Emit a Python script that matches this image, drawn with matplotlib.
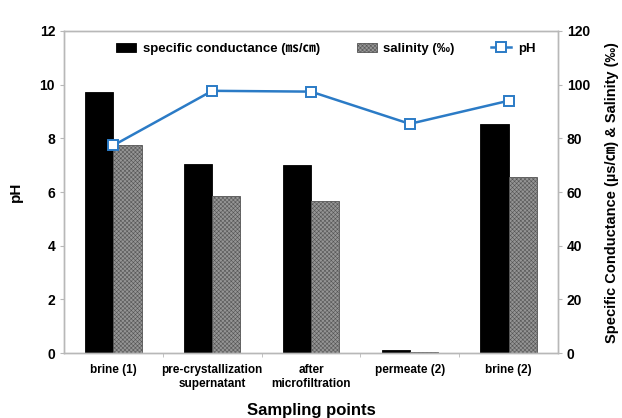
import matplotlib
matplotlib.use("Agg")
import matplotlib.pyplot as plt
import numpy as np

plt.rcParams['font.family'] = ['Liberation Sans', 'Noto Sans CJK KR', 'DejaVu Sans']
plt.rcParams['font.weight'] = 'bold'
plt.rcParams['hatch.linewidth'] = 0.4
plt.rcParams['hatch.color'] = '#6a6a6a'

categories = ['brine (1)', 'pre-crystallization\nsupernatant', 'after\nmicrofiltration',
              'permeate (2)', 'brine (2)']
conductance = [97.1, 70.3, 70.1, 1.3, 85.5]
salinity = [77.6, 58.4, 56.8, 0.6, 65.6]
ph = [7.74, 9.77, 9.74, 8.54, 9.40]

spine_col = '#b8b8b8'

fig = plt.figure(figsize=(6.22, 4.18), dpi=100)
ax = fig.add_axes([0.103, 0.155, 0.794, 0.771])
ax2 = ax.twinx()

x = np.arange(len(categories))
w = 0.285

# bars live on the right-hand axis (0-120)
b1 = ax2.bar(x - w / 2, conductance, width=w, color='black', edgecolor='black',
             linewidth=0.6, label='specific conductance (㎳/㎝)', zorder=2)
b2 = ax2.bar(x + w / 2, salinity, width=w, color='#959595', edgecolor='#555555',
             linewidth=0.6, hatch='xxxxxxxx', label='salinity (‰)', zorder=2)

# pH line on the left axis, drawn above the bars
ax.set_zorder(ax2.get_zorder() + 1)
ax.patch.set_visible(False)
ln, = ax.plot(x, ph, color='#2b7bc6', linewidth=1.8, marker='s', markersize=6.5,
              markerfacecolor='white', markeredgecolor='#2b7bc6', markeredgewidth=1.4,
              label='pH', zorder=3)

ax.set_xlim(-0.5, len(categories) - 0.5)
ax.set_ylim(0, 12)
ax.set_yticks(np.arange(0, 13, 2))
ax2.set_ylim(0, 120)
ax2.set_yticks(np.arange(0, 121, 20))

ax.set_xticks(x)
ax.set_xticklabels(categories, fontsize=8.5, fontweight='bold')
ax.set_xticks(np.arange(0.5, len(categories) - 0.5, 1), minor=True)
ax.tick_params(axis='x', which='major', length=0, pad=8)
ax.tick_params(axis='x', which='minor', length=3, color=spine_col)
ax.tick_params(axis='y', length=3, color=spine_col, labelsize=10)
ax2.tick_params(axis='y', length=3, color=spine_col, labelsize=10)

for a in (ax, ax2):
    for s in a.spines.values():
        s.set_color(spine_col)
        s.set_linewidth(1.0)

ax.set_ylabel('pH', fontsize=11, fontweight='bold', labelpad=12)
ax.set_xlabel('Sampling points', fontsize=12, fontweight='bold', labelpad=9)
ax2.set_ylabel('Specific Conductance (µs/㎝) & Salinity (‰)', fontsize=10.5,
               fontweight='bold', labelpad=11)

ax.legend([b1, b2, ln], [b1.get_label(), b2.get_label(), 'pH'], loc='upper center',
          bbox_to_anchor=(0.53, 1.0), ncol=3, frameon=False,
          handlelength=1.5, handletextpad=0.5, columnspacing=2.8,
          prop={'weight': 'bold', 'size': 9.5})

fig.savefig('out.png', dpi=100)
